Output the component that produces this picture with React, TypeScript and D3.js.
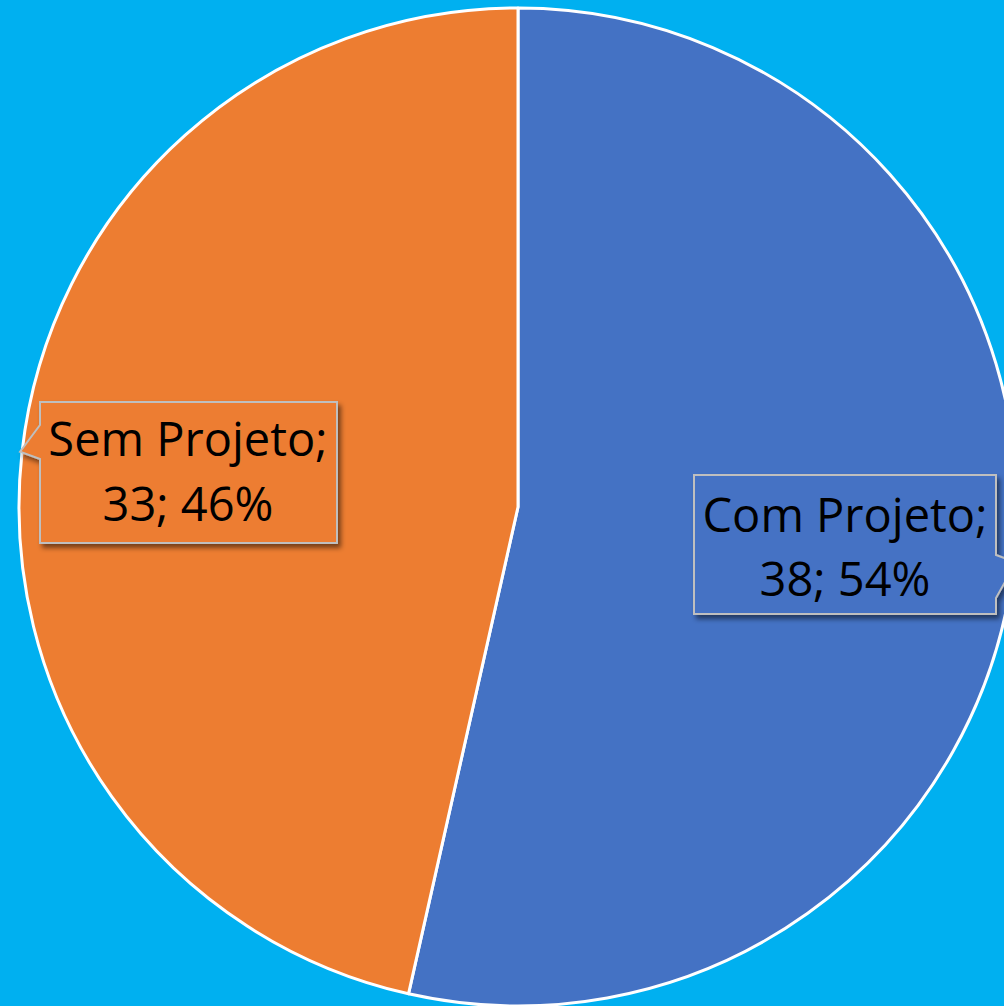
import React from "react";
import * as d3 from "d3";

const categories = ["Com Projeto", "Sem Projeto"];
const values = [38, 33];
const percentLabels = ["54%", "46%"];
const colors = ["#4472C4", "#ED7D31"];

const W = 1004;
const H = 1006;
const cx = 518;
const cy = 507;
const R = 499;

// label box layout (pixels, relative to page)
const boxes = [
  { x0: 694, y0: 475, x1: 996, y1: 614, side: "right", n0: 555, n1: 598, tx: 845, b1: 532, b2: 596 },
  { x0: 40, y0: 402, x1: 337, y1: 543, side: "left", n0: 425, n1: 459, tx: 188, b1: 456, b2: 521 },
];

export default function App() {
  React.useEffect(() => {
    document.body.style.margin = "0";
  }, []);
  const data = categories.map((c, i) => ({ c, v: values[i], p: percentLabels[i], color: colors[i] }));
  const pie = d3.pie<any>().value((d) => d.v).sort(null);
  const arcs = pie(data);
  const arc = d3.arc<any>().innerRadius(0).outerRadius(R);
  const edge = d3.arc<any>().innerRadius(R + 2).outerRadius(R + 2);

  return (
    <svg width={W} height={H} style={{ position: "absolute", left: 0, top: 0, display: "block" }}>
      <defs>
        <filter id="sh" x="-10%" y="-10%" width="130%" height="130%">
          <feDropShadow dx="3" dy="4" stdDeviation="2.5" floodColor="#000" floodOpacity="0.5" />
        </filter>
      </defs>
      <rect width={W} height={H} fill="#00B0F0" />
      <g transform={`translate(${cx},${cy})`}>
        {arcs.map((a, i) => (
          <path key={i} d={arc(a) as string} fill={a.data.color} stroke="#FFFFFF" strokeWidth={3} strokeLinejoin="round" />
        ))}
      </g>
      {arcs.map((a, i) => {
        const b = boxes[i];
        const [tx, ty] = edge.centroid(a);
        const px = cx + tx;
        const py = cy + ty;
        const d =
          b.side === "right"
            ? `M${b.x0},${b.y0}H${b.x1}V${b.n0}L${px},${py}L${b.x1},${b.n1}V${b.y1}H${b.x0}Z`
            : `M${b.x0},${b.y0}H${b.x1}V${b.y1}H${b.x0}V${b.n1}L${px},${py}L${b.x0},${b.n0}Z`;
        return (
          <g key={i}>
            <path d={d} fill={a.data.color} stroke="#BFBFBF" strokeWidth={2} filter="url(#sh)" />
            <text
              x={b.tx}
              textAnchor="middle"
              fontFamily="'Open Sans', sans-serif"
              fontSize={47}
              fill="#000"
            >
              <tspan x={b.tx} y={b.b1}>{`${a.data.c};`}</tspan>
              <tspan x={b.tx} y={b.b2}>{`${a.data.v}; ${a.data.p}`}</tspan>
            </text>
          </g>
        );
      })}
    </svg>
  );
}
